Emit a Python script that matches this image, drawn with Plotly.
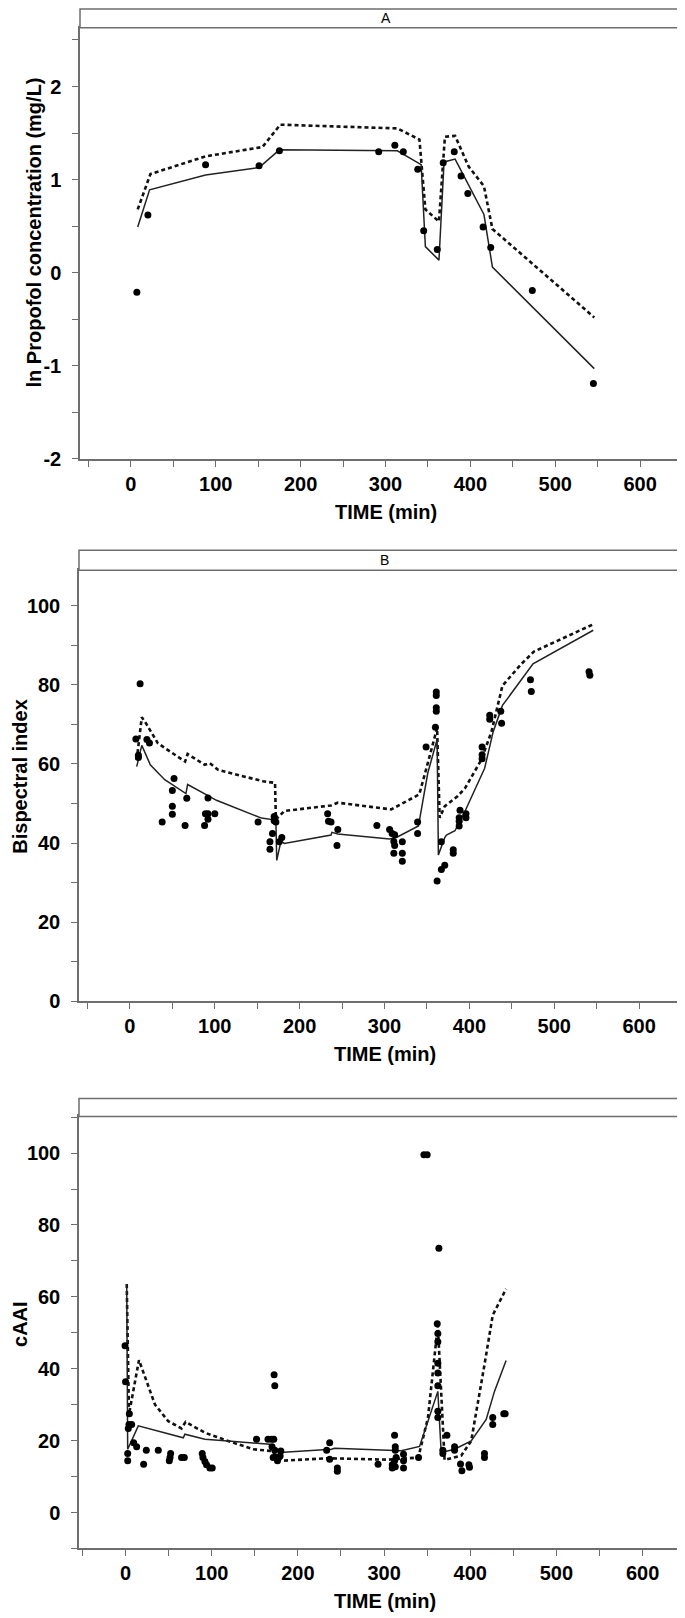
import plotly.graph_objects as go

# ---- panel A: ln propofol concentration ----
a_obs_t = [7, 20, 88, 151, 175, 292, 311, 321, 338, 345, 361, 368, 381, 389, 397, 415, 424, 473, 545]
a_obs_y = [-0.21, 0.62, 1.16, 1.15, 1.31, 1.30, 1.37, 1.30, 1.11, 0.45, 0.25, 1.18, 1.30, 1.04, 0.85, 0.49, 0.27, -0.19, -1.19]
a_solid_t = [8, 22, 88, 151, 175, 314, 342, 347, 363, 369, 382, 416, 426, 546]
a_solid_y = [0.49, 0.89, 1.05, 1.13, 1.32, 1.31, 1.16, 0.28, 0.135, 1.19, 1.22, 0.625, 0.06, -1.03]
a_dash_t = [8, 23, 88, 155, 176, 314, 340, 347, 363, 370, 382, 398, 416, 426, 546]
a_dash_y = [0.68, 1.06, 1.25, 1.35, 1.59, 1.55, 1.43, 0.68, 0.55, 1.46, 1.47, 1.14, 0.93, 0.47, -0.48]
a_ytick_vals = [-2, -1, 0, 1, 2]
a_ytick_text = ["-2", "-1", "0", "1", "2"]

# ---- panel B: bispectral index ----
b_obs_t = [12, 7, 10, 10, 20, 23, 52, 50, 50, 50, 38, 67, 65, 92, 89, 92, 100, 92, 88,
           151, 170, 170, 172, 168, 165, 176, 179, 165, 233, 234, 237, 245, 244, 291,
           306, 309, 312, 311, 312, 321, 311, 321, 321, 339, 339, 349, 361, 361, 361, 361, 360,
           362, 367, 371, 367, 381, 381, 389, 388, 388, 388, 396, 396, 415, 415, 415,
           424, 424, 437, 438, 472, 473, 541, 542]
b_obs_y = [80.3, 66.3, 61.6, 62.2, 66.2, 65.3, 56.3, 53.3, 49.3, 47.3, 45.3, 51.3, 44.4, 51.4, 47.4, 47.4, 47.4, 46.0, 44.4,
           45.3, 46.7, 45.6, 45.3, 42.4, 40.3, 40.3, 41.4, 38.4, 47.4, 45.5, 45.3, 43.4, 39.4, 44.4,
           43.4, 42.4, 42.1, 40.4, 39.4, 40.3, 37.4, 37.4, 35.4, 45.3, 42.4, 64.3, 78.2, 77.3, 74.2, 73.3, 69.3,
           30.4, 33.3, 34.4, 40.3, 38.3, 37.4, 48.3, 46.4, 45.5, 44.3, 47.4, 46.4, 64.3, 62.3, 61.3,
           72.3, 71.3, 73.3, 70.3, 81.3, 78.3, 83.3, 82.4]
b_solid_t = [8, 14, 24, 41, 66, 68, 92, 102, 155, 172, 173, 178, 182, 237, 238, 245, 306, 314, 340,
             351, 362, 363.5, 371, 373, 383, 395, 418, 428, 439, 475, 546]
b_solid_y = [59.3, 64.7, 59.8, 56.0, 52.5, 54.8, 52.0, 50.8, 46.3, 45.8, 35.6, 40.5, 39.9, 42.0, 42.7, 42.3, 41.0, 41.4, 44.3,
             57.7, 66.2, 37.0, 41.4, 42.0, 43.1, 48.1, 58.9, 68.1, 74.8, 85.3, 93.8]
b_dash_t = [8, 14, 18, 33, 65, 68, 88, 94, 104, 157, 171, 172, 177, 182, 237, 245, 308, 341,
            351, 362, 365, 371, 386, 395, 414, 426, 439, 461, 476, 546]
b_dash_y = [61.0, 71.8, 70.6, 65.2, 60.6, 62.5, 59.8, 60.2, 58.5, 55.6, 55.2, 46.0, 47.0, 48.1, 49.5, 50.2, 48.5, 52.3,
            60.2, 69.1, 46.4, 49.3, 51.8, 53.9, 61.0, 68.1, 79.8, 85.2, 88.4, 95.3]

# ---- panel C: cAAI ----
c_obs_t = [-0.6, 0, 2.5, 2.5, 4.4, 4, 7.1, 3.2, 9.4, 12.9, 21, 24.1, 38, 52.3, 51.6, 50.8, 65, 68.2,
           89, 89.8, 92.1, 94, 97.9, 100.6, 152, 165.3, 169.4, 172, 172.4, 173.2, 170, 173.2,
           171.3, 175.2, 176.3, 180.2, 179.4, 236.9, 233.4, 236.9, 245.8, 245.8, 293,
           309.5, 309.5, 312.2, 313, 312.2, 313, 313, 314, 322.6, 322.6, 322.6, 340,
           346.2, 350, 363.6, 361.7, 362.4, 362.4, 362.4, 362.4, 362.4, 362.4, 362.4,
           368.2, 368.2, 372.9, 381.8, 381.8, 388.7, 390.3, 398.4, 399.1, 416.5, 416.5,
           426.1, 426.1, 438.9, 440.5]
c_obs_y = [46.4, 36.4, 16.4, 14.4, 27.5, 24.5, 24.5, 23.4, 19.4, 18.3, 13.4, 17.3, 17.3, 16.4, 15.3, 14.4, 15.3, 15.3,
           16.4, 15.3, 14.2, 13.3, 12.4, 12.4, 20.4, 20.4, 20.4, 20.4, 38.3, 35.3, 18.3, 17.3,
           15.3, 15.3, 14.4, 17.1, 15.7, 19.4, 17.3, 14.8, 12.4, 11.5, 13.4,
           13.3, 12.4, 14.4, 12.7, 21.5, 18.3, 17.3, 15.3, 16.2, 14.4, 12.4, 15.3,
           99.5, 99.5, 73.5, 52.5, 49.8, 47.5, 41.5, 38.8, 35.3, 28.2, 26.4,
           17.3, 16.4, 21.5, 18.3, 17.3, 13.5, 11.6, 13.3, 12.6, 16.4, 15.3,
           26.4, 24.5, 27.5, 27.5]
c_solid_t = [1.4, 2.5, 14.8, 49.6, 67, 68.9, 92.1, 119.1, 167.4, 179, 238.8, 242.7, 304.5, 320,
             341.2, 362.4, 366.3, 381.8, 401.1, 418.5, 428.1, 441.6]
c_solid_y = [63.6, 17.6, 24.1, 21.8, 20.8, 21.8, 20.4, 19.9, 19.0, 16.7, 17.6, 17.9, 17.2, 17.2,
             18.4, 33.7, 16.7, 17.6, 19.9, 25.9, 33.7, 42.3]
c_dash_t = [1.4, 4, 15.6, 34.2, 49.6, 65, 69.7, 92.1, 119.1, 148, 169.4, 181, 235, 304.5,
            339.7, 350.9, 362.4, 370.2, 389.5, 401.1, 416.5, 426.1, 441.6]
c_dash_y = [63.6, 27.3, 42.4, 30.0, 25.4, 23.4, 25.2, 22.2, 19.9, 17.6, 17.1, 14.4, 15.1, 14.7,
            15.3, 26.3, 52.1, 14.6, 15.8, 19.9, 41.1, 54.9, 62.2]

W, H = 685, 1618
FONT = "Liberation Sans, Arial, sans-serif"
AXCOL = "#6e6e6e"

# pixel boxes of plot areas (x0, x1, top, bottom) and strip tops
panels = [
    dict(x0=72, x1=683, top=20, bot=454, strip=1, label="A", xr=[-60, 660], yr=[-2, 2.63],
         dt=1, mdt=0.5, ytitle="ln Propofol concentration (mg/L)", ytx=26, yty=226, xty=507,
         yvals=a_ytick_vals, ytext=a_ytick_text,
         obs=(a_obs_t, a_obs_y), solid=(a_solid_t, a_solid_y), dash=(a_dash_t, a_dash_y)),
    dict(x0=71, x1=682, top=566, bot=1000, strip=546, label="B", xr=[-60, 660], yr=[0, 109],
         dt=20, mdt=10, ytitle="Bispectral index", ytx=12, yty=774, xty=1053,
         obs=(b_obs_t, b_obs_y), solid=(b_solid_t, b_solid_y), dash=(b_dash_t, b_dash_y)),
    dict(x0=71, x1=682, top=1116, bot=1551, strip=1098, label="", xr=[-54, 655], yr=[-10, 110.2],
         dt=20, mdt=10, ytitle="cAAI", ytx=12, yty=1325, xty=1604,
         obs=(c_obs_t, c_obs_y), solid=(c_solid_t, c_solid_y), dash=(c_dash_t, c_dash_y)),
]

fig = go.Figure()
shapes = []
annotations = []

for i, p in enumerate(panels, start=1):
    xa = "x" if i == 1 else f"x{i}"
    ya = "y" if i == 1 else f"y{i}"
    fig.add_trace(go.Scatter(x=p["dash"][0], y=p["dash"][1], mode="lines", xaxis=xa, yaxis=ya,
                             line=dict(color="#111111", width=2.6, dash="4px,3px"), showlegend=False))
    fig.add_trace(go.Scatter(x=p["solid"][0], y=p["solid"][1], mode="lines", xaxis=xa, yaxis=ya,
                             line=dict(color="#222222", width=1.5), showlegend=False))
    fig.add_trace(go.Scatter(x=p["obs"][0], y=p["obs"][1], mode="markers", xaxis=xa, yaxis=ya,
                             marker=dict(color="black", size=7), showlegend=False))

    axis_common = dict(showline=True, linecolor=AXCOL, linewidth=1.5, mirror=True,
                       showgrid=False, zeroline=False, ticks="outside", ticklen=6,
                       tickcolor=AXCOL, tickwidth=1,
                       tickfont=dict(family=FONT, size=20, color="black", weight="bold"))
    xkey = "xaxis" if i == 1 else f"xaxis{i}"
    ykey = "yaxis" if i == 1 else f"yaxis{i}"
    fig.layout[xkey] = dict(axis_common, domain=[p["x0"] / W, p["x1"] / W], range=p["xr"],
                            anchor=ya, tick0=0, dtick=100,
                            minor=dict(dtick=50, ticks="outside", ticklen=6, tickcolor=AXCOL))
    yax = dict(axis_common, domain=[1 - p["bot"] / H, 1 - p["top"] / H], range=p["yr"],
               anchor=xa, tick0=0, dtick=p["dt"], ticklabelstandoff=7,
               minor=dict(dtick=p["mdt"], ticks="outside", ticklen=6, tickcolor=AXCOL))
    if "yvals" in p:
        yax.update(tickmode="array", tickvals=p["yvals"], ticktext=p["ytext"])
    fig.layout[ykey] = yax

    # strip header
    shapes.append(dict(type="rect", xref="paper", yref="paper",
                       x0=p["x0"] / W, x1=p["x1"] / W, y0=1 - p["top"] / H, y1=1 - p["strip"] / H,
                       line=dict(color=AXCOL, width=1.5), fillcolor="white"))
    if p["label"]:
        annotations.append(dict(text=p["label"], xref="paper", yref="paper", showarrow=False,
                                x=(p["x0"] + p["x1"]) / 2 / W, y=1 - (p["strip"] + p["top"]) / 2 / H,
                                xanchor="center", yanchor="middle",
                                font=dict(family=FONT, size=14, color="black")))
    annotations.append(dict(text="TIME (min)", xref="paper", yref="paper", showarrow=False,
                            x=(p["x0"] + p["x1"]) / 2 / W, y=1 - p["xty"] / H,
                            xanchor="center", yanchor="middle",
                            font=dict(family=FONT, size=20, color="black", weight="bold")))
    annotations.append(dict(text=p["ytitle"], xref="paper", yref="paper", showarrow=False,
                            x=p["ytx"] / W, y=1 - p["yty"] / H, textangle=-90,
                            xanchor="center", yanchor="middle",
                            font=dict(family=FONT, size=20, color="black", weight="bold")))

fig.update_layout(width=W, height=H, margin=dict(l=0, r=0, t=0, b=0),
                  paper_bgcolor="white", plot_bgcolor="white",
                  shapes=shapes, annotations=annotations)

fig.write_html("out.html")
